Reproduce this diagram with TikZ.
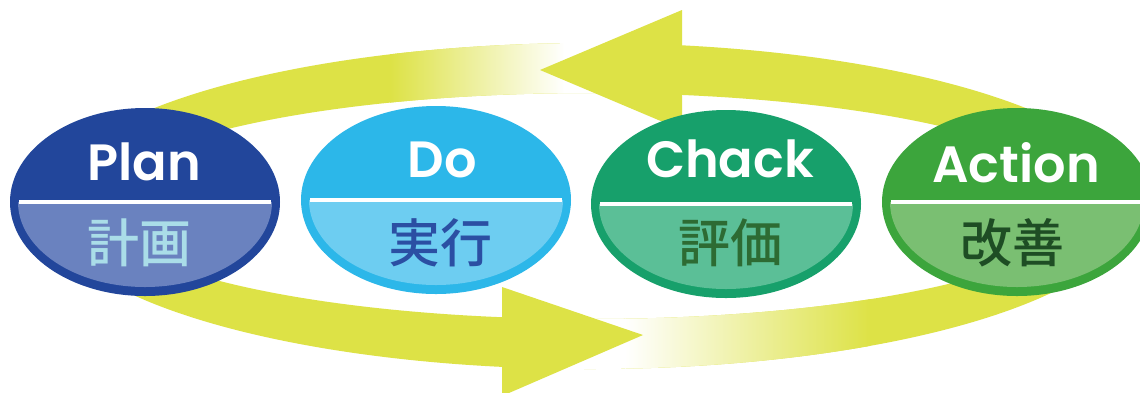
\documentclass[tikz,border=0pt]{standalone}
\usepackage{fontspec}
\newfontfamily\enfont{Poppins}[BoldFont={Poppins SemiBold}]
\newfontfamily\jafont{Noto Sans CJK JP}[BoldFont={Noto Sans CJK JP Medium}]
\usetikzlibrary{shapes.geometric}
\definecolor{yg}{RGB}{221,226,70}
\definecolor{planTop}{RGB}{34,70,155}
\definecolor{planLow}{RGB}{106,130,191}
\definecolor{planJa}{RGB}{170,221,232}
\definecolor{doTop}{RGB}{44,183,233}
\definecolor{doLow}{RGB}{109,205,241}
\definecolor{doJa}{RGB}{43,79,163}
\definecolor{chTop}{RGB}{23,160,107}
\definecolor{chLow}{RGB}{91,191,151}
\definecolor{chJa}{RGB}{45,107,51}
\definecolor{acTop}{RGB}{60,165,60}
\definecolor{acLow}{RGB}{122,191,114}
\definecolor{acJa}{RGB}{30,77,36}
\tikzset{
  pdca/.style={ellipse, minimum width=270pt, minimum height=188pt, inner sep=0pt, fill=#1},
  entext/.style={text=white, font=\enfont\bfseries\fontsize{51}{51}\selectfont, anchor=base, inner sep=0pt},
  jatext/.style={text=#1, font=\jafont\bfseries\fontsize{52}{52}\selectfont, inner sep=0pt},
  sepline/.style={white, line width=4.5pt},
  ringfill/.style={fill=yg},
}
\newcommand{\lowerhalf}[2]{%
  \begin{scope}
    \clip (#1.center) ellipse [x radius=127pt, y radius=85pt];
    \fill[#2] ([xshift=-140pt]#1.center) rectangle ([xshift=140pt,yshift=-100pt]#1.center);
  \end{scope}
  \draw[sepline] ([xshift=-126pt]#1.center) -- ([xshift=126pt]#1.center);
}
\begin{document}
\begin{tikzpicture}[x=1pt,y=-1pt]
\useasboundingbox (0,0) rectangle (1140,392);
\clip (0,0) rectangle (1140,392);
\fill[white] (0,0) rectangle (1140,392);
% ring band
\begin{scope}[even odd rule]
  \clip (590,206) ellipse [x radius=545pt, y radius=163pt]
        (590,206) ellipse [x radius=495pt, y radius=113pt];
  \fill[ringfill] (0,0) rectangle (1140,392);
  \shade[left color=yg, right color=white] (390,0) rectangle (565,206);
  \fill[white] (564,0) rectangle (672,206);
  \fill[white] (512,206) rectangle (626,392);
  \shade[left color=white, right color=yg] (625,206) rectangle (870,392);
\end{scope}
% arrowheads
\coordinate (topTip) at (540,70);
\coordinate (topA) at (682,10);
\coordinate (topB) at (682,130);
\coordinate (botTip) at (643,335);
\coordinate (botA) at (502,287);
\coordinate (botB) at (502,396);
\fill[yg] (topA) -- (topB) -- (topTip) -- cycle;
\fill[yg] (botA) -- (botB) -- (botTip) -- cycle;
% ellipses
\node[pdca=planTop] (plan) at (145,202) {};
\node[pdca=doTop] (do) at (436,200) {};
\node[pdca=chTop] (check) at (726,204) {};
\node[pdca=acTop] (act) at (1017,202) {};
\lowerhalf{plan}{planLow}
\lowerhalf{do}{doLow}
\lowerhalf{check}{chLow}
\lowerhalf{act}{acLow}
% texts
\node[entext] (planEn) at (144,180) {Plan};
\node[entext] (doEn) at (442,177) {Do};
\node[entext] (checkEn) at (730,177) {Chack};
\node[entext] (actEn) at (1016,182) {Action};
\node[jatext=planJa] (planJp) at (139,243) {計画};
\node[jatext=doJa] (doJp) at (440,243) {実行};
\node[jatext=chJa] (checkJp) at (730,243) {評価};
\node[jatext=acJa] (actJp) at (1012,243) {改善};
\end{tikzpicture}
\end{document}
